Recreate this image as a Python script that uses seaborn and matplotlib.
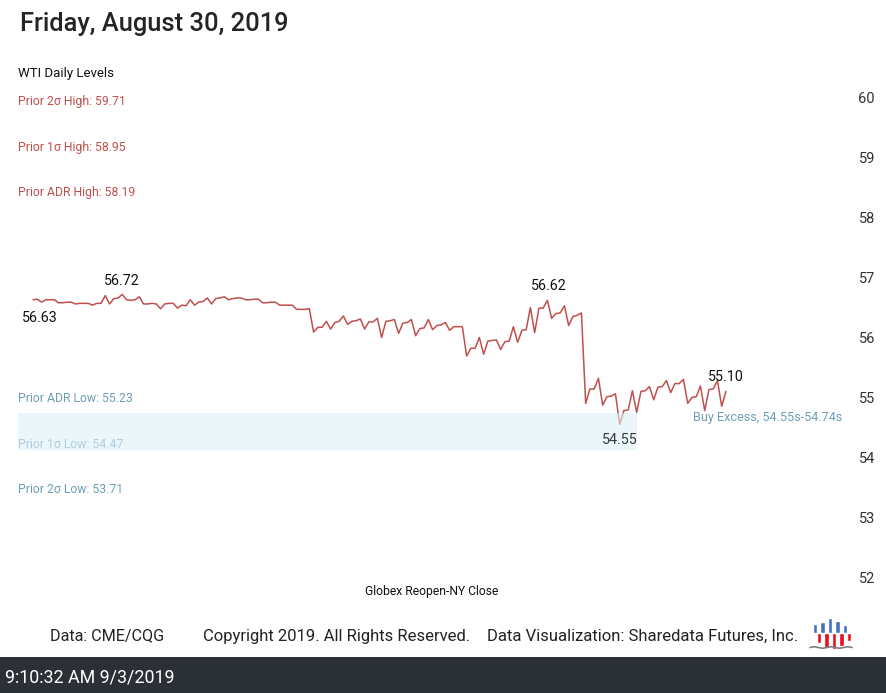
import numpy as np
import pandas as pd
import matplotlib
matplotlib.use("Agg")
import matplotlib.pyplot as plt
import matplotlib.transforms as mtransforms
from matplotlib.patches import Rectangle
import seaborn as sns

# ---------------- data ----------------
title = "Friday, August 30, 2019"
subtitle = "WTI Daily Levels"
x_label = "Globex Reopen-NY Close"
timestamp = "9:10:32 AM 9/3/2019"
footer_parts = ["Data: CME/CQG", "Copyright 2019. All Rights Reserved.",
                "Data Visualization: Sharedata Futures, Inc."]

prices = [
    56.63, 56.64, 56.59, 56.63, 56.63, 56.63, 56.58, 56.58, 56.59, 56.59, 56.56, 56.57, 56.57, 56.57, 56.54, 56.57, 56.57,
    56.70, 56.56, 56.65, 56.66, 56.72, 56.63, 56.62, 56.63, 56.68, 56.56, 56.56, 56.57, 56.56, 56.48, 56.56, 56.57, 56.57,
    56.49, 56.54, 56.53, 56.63, 56.54, 56.59,
    56.60, 56.66, 56.56, 56.65, 56.66, 56.68, 56.63, 56.65, 56.66, 56.66, 56.63, 56.63, 56.64, 56.64, 56.58, 56.58, 56.59,
    56.59, 56.54, 56.54, 56.54, 56.54, 56.47, 56.47, 56.47, 56.48,
    56.09, 56.17, 56.17, 56.27, 56.14, 56.25, 56.27, 56.36, 56.22, 56.27, 56.28, 56.31, 56.14, 56.26, 56.26, 56.32,
    56.00, 56.27, 56.28, 56.30, 56.07, 56.24, 56.25, 56.30, 56.03, 56.15, 56.16, 56.30, 56.13, 56.20, 56.21, 56.25, 56.12,
    56.18, 56.18, 56.18,
    55.69, 55.82, 55.82, 56.00, 55.72, 55.94, 55.95, 55.96, 55.80, 55.93, 55.94, 56.18, 55.92, 56.12, 56.13, 56.50, 56.08,
    56.49, 56.49, 56.62, 56.32, 56.40, 56.41, 56.53, 56.20, 56.35, 56.37, 56.41,
    54.90, 55.14, 55.14, 55.32, 54.87, 55.01, 55.02, 55.06, 54.55, 54.78, 54.79, 55.11, 54.75, 55.10, 55.11, 55.18, 54.96,
    55.17, 55.18, 55.28, 55.08, 55.23, 55.23, 55.30, 54.90, 55.00, 55.01, 55.19, 54.78, 55.13, 55.14, 55.28, 54.85, 55.10,
]

level_names = ["Prior 2σ High", "Prior 1σ High", "Prior ADR High",
               "Prior ADR Low", "Prior 1σ Low", "Prior 2σ Low"]
level_values = [59.71, 58.95, 58.19, 55.23, 54.47, 53.71]
level_is_high = [True, True, True, False, False, False]

y_ticks = [52, 53, 54, 55, 56, 57, 58, 59, 60]
buy_excess = (54.55, 54.74)
band_range = (54.12, 54.74)
band_end_bar = 142

logo_up = [9, 11, 15, 12, 8]
logo_down = [10, 15, 16, 13, 8]
logo_wave = [-15, -14.2, -15, -15.8, -15, -14.2, -15, -15.8, -15, -14.2, -15]

# ---------------- style ----------------
sns.set_theme(style="white")
plt.rcParams["font.family"] = ["Roboto", "DejaVu Sans"]

RED = "#C0504D"
TEAL = "#6E9FB5"
DARK = "#252423"

W, H = 887, 693
fig = plt.figure(figsize=(W / 100, H / 100), dpi=100)
fig.patch.set_facecolor("white")

ax_top_px, ax_bot_px = 80, 590
ax_left_px, ax_right_px = 18, 846
ax = fig.add_axes([ax_left_px / W, 1 - ax_bot_px / H,
                   (ax_right_px - ax_left_px) / W, (ax_bot_px - ax_top_px) / H])
ax.set_facecolor("white")

df = pd.DataFrame({"bar": np.arange(len(prices)), "price": prices})
sns.lineplot(data=df, x="bar", y="price", ax=ax, color=RED, linewidth=1.1, zorder=3)

x_left = -15 / 4.25
x_right = len(prices) - 1 + (ax_right_px - 726) / 4.25
ax.set_xlim(x_left, x_right)
ax.set_ylim(51.783, 60.30)

# band
ax.fill_between([x_left, band_end_bar], band_range[0], band_range[1],
                color="#DCF0F8", alpha=0.6, linewidth=0, zorder=4)

# level labels
blend = mtransforms.blended_transform_factory(ax.transAxes, ax.transData)
for name, val, hi in zip(level_names, level_values, level_is_high):
    ypos = val + 0.225 if hi else val - 0.25
    ax.text(0.0, ypos, f"{name}: {val:.2f}", transform=blend, ha="left", va="center",
            fontsize=8.8, color=RED if hi else TEAL, zorder=2)

# point annotations
arr = np.array(prices)
i_first = 0
i_max = int(np.argmax(arr))
i_max2 = 82 + int(np.argmax(arr[82:]))
i_min = int(np.argmin(arr))
i_last = len(prices) - 1
ann = [(i_first, (5, -13), "#111111"), (i_max, (0, 9.5), "#111111"),
       (i_max2, (0.7, 10), "#111111"), (i_min, (0, -11), "#3A3A3A"),
       (i_last, (0, 10), "#111111")]
for i, off, col in ann:
    ax.annotate(f"{prices[i]:.2f}", (i, prices[i]), xytext=off, textcoords="offset points",
                ha="center", va="center", fontsize=10.3, color=col, zorder=5)
ax.annotate(f"Buy Excess, {buy_excess[0]:.2f}s-{buy_excess[1]:.2f}s", (i_last, prices[i_last]),
            xytext=(-24, -19), textcoords="offset points", ha="left", va="center",
            fontsize=9.1, color=TEAL, zorder=5)

# axes styling
ax.yaxis.tick_right()
ax.set_yticks(y_ticks)
ax.set_yticklabels([str(t) for t in y_ticks])
ax.tick_params(axis="y", length=0, pad=9, labelsize=10.5, labelcolor="#333333")
ax.set_xticks([])
ax.set_xlabel("")
ax.set_ylabel("")
for s in ax.spines.values():
    s.set_visible(False)

# texts
fig.text(20 / W, 1 - 24 / H, title, ha="left", va="center", fontsize=18.4,
         fontweight="medium", color=DARK)
fig.text(18 / W, 1 - 73 / H, subtitle, ha="left", va="center", fontsize=9.5, color="#111111")
fig.text(432 / W, 1 - 591 / H, x_label, ha="center", va="center", fontsize=8.7, color="#111111")
fig.text(107 / W, 1 - 636 / H, footer_parts[0], ha="center", va="center", fontsize=11.6, color="#222222")
fig.text(203 / W, 1 - 636 / H, footer_parts[1], ha="left", va="center", fontsize=12.0, color="#222222")
fig.text(487 / W, 1 - 636 / H, footer_parts[2], ha="left", va="center", fontsize=12.0, color="#222222")

# bottom bar
fig.patches.append(Rectangle((0, 0), 1, 36 / H, transform=fig.transFigure,
                             facecolor="#2B3036", edgecolor="none", zorder=0))
fig.text(5 / W, 1 - 677 / H, timestamp, ha="left", va="center", fontsize=12.9, color="white")

# logo
lax = fig.add_axes([808 / W, 1 - 652 / H, 46 / W, 36 / H])
lax.bar(np.arange(5) * 7.5 + 7, logo_up, width=4.5, color="#4472C4")
lax.bar(np.arange(5) * 7.5 + 11, [-d for d in logo_down], width=4.5, color="#E8101E")
lax.plot(np.linspace(2, 44, len(logo_wave)), logo_wave, color="#7F7F7F", linewidth=1.2)
lax.set_xlim(0, 46)
lax.set_ylim(-19.5, 16.5)
lax.axis("off")

fig.savefig("out.png", dpi=100, facecolor="white")
